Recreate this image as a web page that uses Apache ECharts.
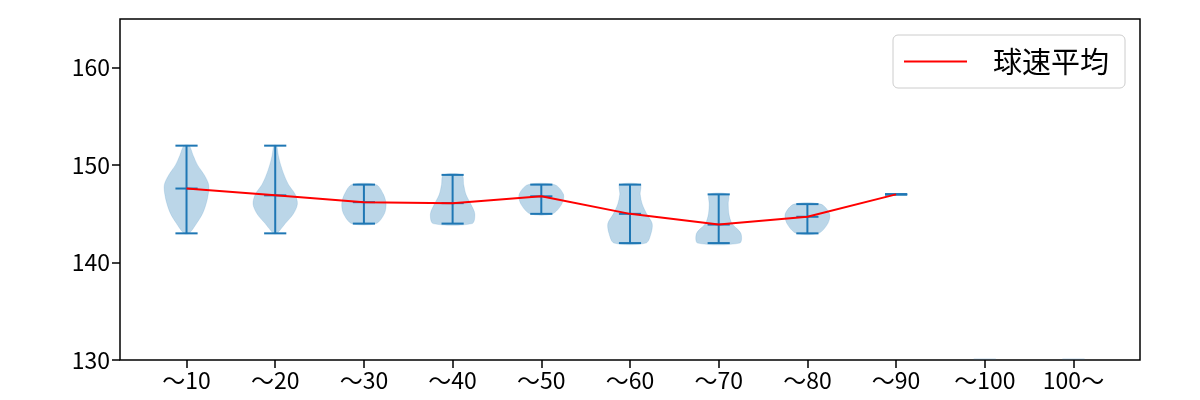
<!DOCTYPE html>
<html>
<head>
<meta charset="utf-8">
<script src="https://cdn.jsdelivr.net/npm/echarts@6/dist/echarts.min.js"></script>
<style>html,body{margin:0;padding:0;background:#fff}#c{width:1200px;height:400px}</style>
</head>
<body>
<div id="c"></div>
<script>
var categories = ['～10','～20','～30','～40','～50','～60','～70','～80','～90','～100','100～'];
var means = [147.6, 146.9, 146.2, 146.1, 146.8, 145.0, 143.9, 144.7, 147.0, null, null];
var mins  = [143, 143, 144, 144, 145, 142, 142, 143, 147, null, null];
var maxs  = [152, 152, 148, 149, 148, 148, 147, 146, 147, null, null];
// relative half-widths of each violin, evenly spaced from min (first) to max (last)
var profiles = [
  [0.12, 0.45, 0.72, 0.88, 0.98, 1.0, 0.8, 0.5, 0.3, 0.12],
  [0.08, 0.45, 0.82, 1.0, 0.9, 0.6, 0.4, 0.25, 0.14, 0.06],
  [0.55, 0.92, 1.0, 0.88, 0.55],
  [0.88, 1.0, 0.82, 0.6, 0.5, 0.42],
  [0.5, 0.92, 1.0, 0.6],
  [0.72, 0.95, 1.0, 0.75, 0.55, 0.46, 0.46],
  [0.95, 1.0, 0.6, 0.46, 0.43, 0.42],
  [0.5, 0.92, 1.0, 0.6],
  null, null, null
];
var yTicks = [130, 140, 150, 160];

var chart = echarts.init(document.getElementById('c'), null, {renderer: 'canvas'});
var blue = '#1f77b4';
var fill = 'rgba(31,119,180,0.3)';
var positions = categories.map(function (c, i) { return i + 1; });

var violinData = positions.map(function (p, i) { return [p, i]; });
var lineData = [];
positions.forEach(function (p, i) { if (means[i] != null) lineData.push([p, means[i]]); });

function renderViolin(params, api) {
  var idx = api.value(1);
  var x = api.value(0);
  var children = [];
  var halfW = 0.25, capW = 0.125;
  var mn = mins[idx], mx = maxs[idx];
  if (mn == null) {
    var a = api.coord([x - capW, 130]), b = api.coord([x + capW, 130]);
    children.push({type: 'line', shape: {x1: a[0], y1: a[1] - 1, x2: b[0], y2: b[1] - 1}, style: {stroke: 'rgba(31,119,180,0.12)', lineWidth: 2}});
    return {type: 'group', children: children};
  }
  var prof = profiles[idx];
  if (prof) {
    var n = prof.length, right = [], left = [];
    for (var j = 0; j < n; j++) {
      var v = mn + j * (mx - mn) / (n - 1);
      right.push(api.coord([x + prof[j] * halfW, v]));
      left.unshift(api.coord([x - prof[j] * halfW, v]));
    }
    children.push({type: 'polygon', shape: {points: right.concat(left), smooth: 0.3}, style: {fill: fill, stroke: 'rgba(31,119,180,0.3)', lineWidth: 0.5}});
  }
  var ls = {stroke: blue, lineWidth: 2};
  var t = api.coord([x, mx]), bt = api.coord([x, mn]);
  children.push({type: 'line', shape: {x1: t[0], y1: t[1], x2: bt[0], y2: bt[1]}, style: ls});
  [mx, mn, means[idx]].forEach(function (v) {
    var a = api.coord([x - capW, v]), b = api.coord([x + capW, v]);
    children.push({type: 'line', shape: {x1: a[0], y1: a[1], x2: b[0], y2: b[1]}, style: ls});
  });
  return {type: 'group', children: children};
}

var font = '"Noto Sans CJK JP", "Noto Sans", sans-serif';
chart.setOption({
  animation: false,
  grid: {left: 120, right: 60, top: 19, bottom: 40, show: true, borderColor: '#000', borderWidth: 1.5, backgroundColor: 'transparent'},
  xAxis: {
    type: 'value', min: 0.25, max: 11.75,
    splitLine: {show: false},
    axisLine: {show: false},
    axisTick: {show: true, length: 8, lineStyle: {color: '#000', width: 1.5}, customValues: positions},
    axisLabel: {customValues: positions, color: '#000', fontSize: 23, fontFamily: font, margin: 9,
      formatter: function (v) { return categories[Math.round(v) - 1] || ''; }}
  },
  yAxis: {
    type: 'value', min: 130, max: 165, interval: 10,
    splitLine: {show: false},
    axisLine: {show: false},
    axisTick: {show: true, length: 8, lineStyle: {color: '#000', width: 1.5}, customValues: yTicks},
    axisLabel: {customValues: yTicks, color: '#000', fontSize: 23, fontFamily: font, margin: 10}
  },
  legend: {
    show: true, left: 893, top: 35, orient: 'vertical',
    padding: [12, 16, 12, 11],
    borderColor: '#cccccc', borderWidth: 1, borderRadius: 5, backgroundColor: '#fff',
    itemWidth: 63, itemHeight: 2, icon: 'rect',
    textStyle: {fontSize: 29, fontFamily: font, color: '#000', padding: [0, 0, 0, 21]},
    data: [{name: '球速平均', icon: 'rect', itemStyle: {color: 'red'}}]
  },
  series: [
    {type: 'custom', name: 'violin', renderItem: renderViolin, data: violinData, encode: {x: 0, y: 1}, clip: true, z: 2},
    {type: 'line', name: '球速平均', data: lineData, symbol: 'none', lineStyle: {color: 'red', width: 2}, itemStyle: {color: 'red'}, z: 3}
  ]
});
</script>
</body>
</html>
